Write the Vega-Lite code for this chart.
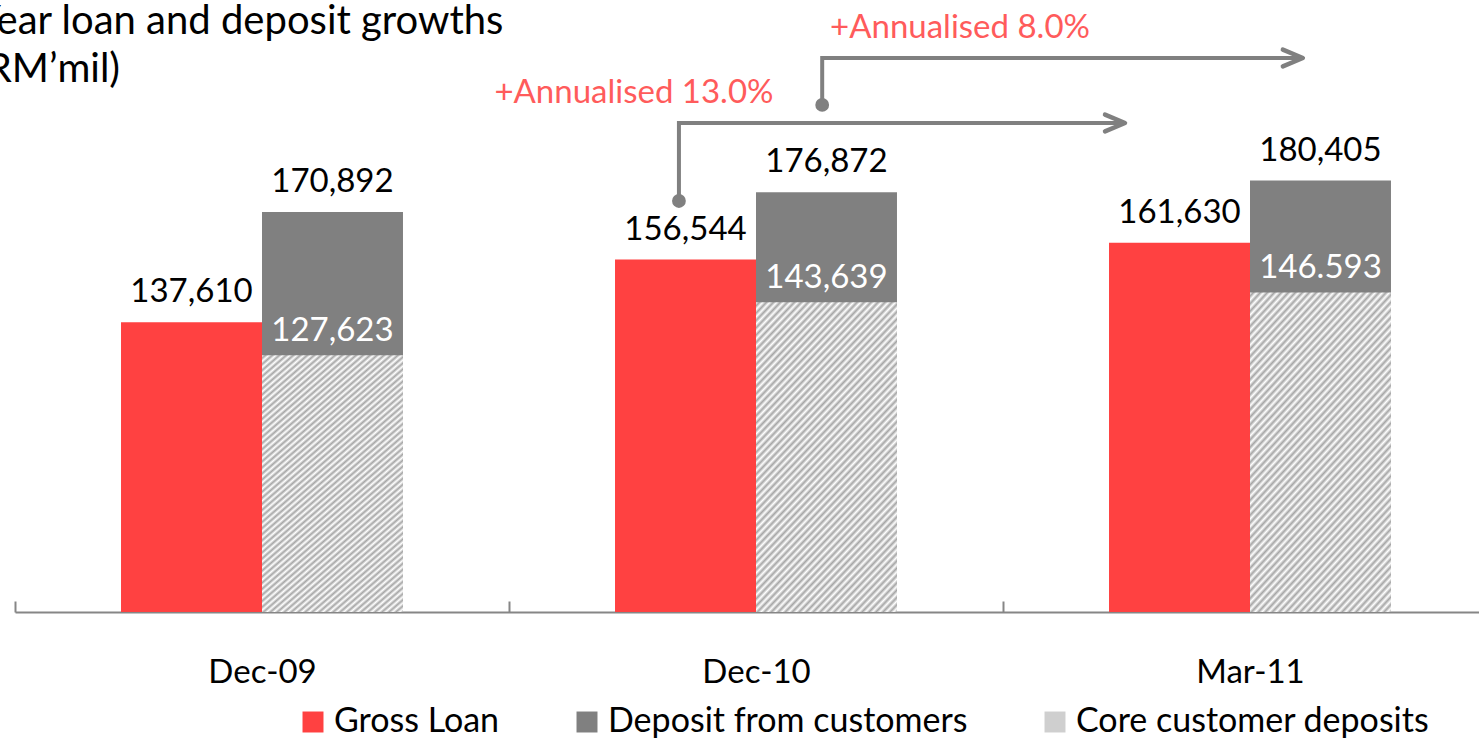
{
  "$schema": "https://vega.github.io/schema/vega-lite/v6.json",
  "width": 1464,
  "height": 612,
  "autosize": "none",
  "padding": {"left": 15, "top": 0, "right": 0, "bottom": 127},
  "config": {
    "view": {"stroke": null},
    "font": "Lato",
    "text": {"font": "Lato"}
  },
  "title": {
    "text": ["Year loan and deposit growths", "(RM’mil)"],
    "anchor": "start",
    "frame": "group",
    "orient": "top",
    "font": "Lato",
    "fontSize": 40,
    "fontWeight": "normal",
    "color": "#000000",
    "lineHeight": 48,
    "baseline": "top",
    "offset": 0,
    "dx": -39,
    "dy": 90
  },
  "datasets": {
    "bars": [
      {"period": "Dec-09", "series": "Gross Loan", "slot": "loan", "value": 137610, "label": "137,610"},
      {"period": "Dec-09", "series": "Deposit from customers", "slot": "deposit", "value": 170892, "label": "170,892"},
      {"period": "Dec-09", "series": "Core customer deposits", "slot": "deposit", "value": 127623, "label": "127,623"},
      {"period": "Dec-10", "series": "Gross Loan", "slot": "loan", "value": 156544, "label": "156,544"},
      {"period": "Dec-10", "series": "Deposit from customers", "slot": "deposit", "value": 176872, "label": "176,872"},
      {"period": "Dec-10", "series": "Core customer deposits", "slot": "deposit", "value": 143639, "label": "143,639"},
      {"period": "Mar-11", "series": "Gross Loan", "slot": "loan", "value": 161630, "label": "161,630"},
      {"period": "Mar-11", "series": "Deposit from customers", "slot": "deposit", "value": 180405, "label": "180,405"},
      {"period": "Mar-11", "series": "Core customer deposits", "slot": "deposit", "value": 146593, "label": "146.593"}
    ],
    "arrows": [
      {"growth": "+Annualised 13.0%", "xStart": 1.344, "xEnd": 2.247, "yStart": 174244, "yLevel": 197823, "textX": 1.253, "textY": 206893},
      {"growth": "+Annualised 8.0%", "xStart": 1.634, "xEnd": 2.607, "yStart": 203265, "yLevel": 217473, "textX": 1.913, "textY": 226542}
    ]
  },
  "layer": [
    {
      "data": {"name": "bars"},
      "encoding": {
        "x": {
          "field": "period",
          "type": "nominal",
          "sort": ["Dec-09", "Dec-10", "Mar-11"],
          "scale": {"range": [0, 1482], "paddingInner": 0, "paddingOuter": 0},
          "axis": {
            "title": null,
            "labelAngle": 0,
            "tickBand": "extent",
            "tickSize": -11,
            "tickWidth": 2,
            "tickColor": "#868686",
            "domainColor": "#868686",
            "domainWidth": 2,
            "labelFont": "Lato",
            "labelFontSize": 33,
            "labelColor": "#000000",
            "labelPadding": 55,
            "labelBaseline": "top",
            "grid": false
          }
        },
        "xOffset": {
          "field": "slot",
          "type": "nominal",
          "scale": {"domain": ["loan", "deposit"], "paddingInner": 0, "paddingOuter": 0.752}
        },
        "y": {
          "field": "value",
          "type": "quantitative",
          "scale": {"domain": [50000, 235000]},
          "axis": null
        }
      },
      "layer": [
        {
          "transform": [{"filter": "datum.series !== 'Core customer deposits'"}],
          "mark": {"type": "bar"},
          "encoding": {
            "y2": {"datum": 50000},
            "color": {
              "field": "series",
              "type": "nominal",
              "scale": {
                "domain": ["Gross Loan", "Deposit from customers", "Core customer deposits"],
                "range": ["#ff4141", "#808080", "#cfcfcf"]
              },
              "legend": {
                "title": null,
                "orient": "none",
                "legendX": 281,
                "legendY": 705,
                "direction": "horizontal",
                "symbolType": "square",
                "symbolSize": 440,
                "symbolStrokeWidth": 0,
                "labelFont": "Lato",
                "labelFontSize": 34,
                "labelColor": "#000000",
                "labelLimit": 800,
                "labelOffset": 4,
                "columnPadding": 70,
                "padding": 0
              }
            }
          }
        },
        {
          "transform": [{"filter": "datum.series === 'Core customer deposits'"}],
          "mark": {
            "type": "bar",
            "fill": {
              "gradient": "linear",
              "x1": 0, "y1": 0, "x2": 0.575, "y2": 1.203,
              "stops": [
                {"offset": 0, "color": "#ffffff"}, {"offset": 0.008, "color": "#a6a6a6"}, {"offset": 0.016, "color": "#ffffff"}, {"offset": 0.024, "color": "#a6a6a6"}, {"offset": 0.032, "color": "#ffffff"}, {"offset": 0.04, "color": "#a6a6a6"}, {"offset": 0.048, "color": "#ffffff"}, {"offset": 0.056, "color": "#a6a6a6"}, {"offset": 0.064, "color": "#ffffff"}, {"offset": 0.072, "color": "#a6a6a6"},
                {"offset": 0.08, "color": "#ffffff"}, {"offset": 0.088, "color": "#a6a6a6"}, {"offset": 0.096, "color": "#ffffff"}, {"offset": 0.104, "color": "#a6a6a6"}, {"offset": 0.112, "color": "#ffffff"}, {"offset": 0.12, "color": "#a6a6a6"}, {"offset": 0.128, "color": "#ffffff"}, {"offset": 0.136, "color": "#a6a6a6"}, {"offset": 0.144, "color": "#ffffff"}, {"offset": 0.152, "color": "#a6a6a6"},
                {"offset": 0.16, "color": "#ffffff"}, {"offset": 0.168, "color": "#a6a6a6"}, {"offset": 0.176, "color": "#ffffff"}, {"offset": 0.184, "color": "#a6a6a6"}, {"offset": 0.192, "color": "#ffffff"}, {"offset": 0.2, "color": "#a6a6a6"}, {"offset": 0.208, "color": "#ffffff"}, {"offset": 0.216, "color": "#a6a6a6"}, {"offset": 0.224, "color": "#ffffff"}, {"offset": 0.232, "color": "#a6a6a6"},
                {"offset": 0.24, "color": "#ffffff"}, {"offset": 0.248, "color": "#a6a6a6"}, {"offset": 0.256, "color": "#ffffff"}, {"offset": 0.264, "color": "#a6a6a6"}, {"offset": 0.272, "color": "#ffffff"}, {"offset": 0.28, "color": "#a6a6a6"}, {"offset": 0.288, "color": "#ffffff"}, {"offset": 0.296, "color": "#a6a6a6"}, {"offset": 0.304, "color": "#ffffff"}, {"offset": 0.312, "color": "#a6a6a6"},
                {"offset": 0.32, "color": "#ffffff"}, {"offset": 0.328, "color": "#a6a6a6"}, {"offset": 0.336, "color": "#ffffff"}, {"offset": 0.344, "color": "#a6a6a6"}, {"offset": 0.352, "color": "#ffffff"}, {"offset": 0.36, "color": "#a6a6a6"}, {"offset": 0.368, "color": "#ffffff"}, {"offset": 0.376, "color": "#a6a6a6"}, {"offset": 0.384, "color": "#ffffff"}, {"offset": 0.392, "color": "#a6a6a6"},
                {"offset": 0.4, "color": "#ffffff"}, {"offset": 0.408, "color": "#a6a6a6"}, {"offset": 0.416, "color": "#ffffff"}, {"offset": 0.424, "color": "#a6a6a6"}, {"offset": 0.432, "color": "#ffffff"}, {"offset": 0.44, "color": "#a6a6a6"}, {"offset": 0.448, "color": "#ffffff"}, {"offset": 0.456, "color": "#a6a6a6"}, {"offset": 0.464, "color": "#ffffff"}, {"offset": 0.472, "color": "#a6a6a6"},
                {"offset": 0.48, "color": "#ffffff"}, {"offset": 0.488, "color": "#a6a6a6"}, {"offset": 0.496, "color": "#ffffff"}, {"offset": 0.504, "color": "#a6a6a6"}, {"offset": 0.512, "color": "#ffffff"}, {"offset": 0.52, "color": "#a6a6a6"}, {"offset": 0.528, "color": "#ffffff"}, {"offset": 0.536, "color": "#a6a6a6"}, {"offset": 0.544, "color": "#ffffff"}, {"offset": 0.552, "color": "#a6a6a6"},
                {"offset": 0.56, "color": "#ffffff"}, {"offset": 0.568, "color": "#a6a6a6"}, {"offset": 0.576, "color": "#ffffff"}, {"offset": 0.584, "color": "#a6a6a6"}, {"offset": 0.592, "color": "#ffffff"}, {"offset": 0.6, "color": "#a6a6a6"}, {"offset": 0.608, "color": "#ffffff"}, {"offset": 0.616, "color": "#a6a6a6"}, {"offset": 0.624, "color": "#ffffff"}, {"offset": 0.632, "color": "#a6a6a6"},
                {"offset": 0.64, "color": "#ffffff"}, {"offset": 0.648, "color": "#a6a6a6"}, {"offset": 0.656, "color": "#ffffff"}, {"offset": 0.664, "color": "#a6a6a6"}, {"offset": 0.672, "color": "#ffffff"}, {"offset": 0.68, "color": "#a6a6a6"}, {"offset": 0.688, "color": "#ffffff"}, {"offset": 0.696, "color": "#a6a6a6"}, {"offset": 0.704, "color": "#ffffff"}, {"offset": 0.712, "color": "#a6a6a6"},
                {"offset": 0.72, "color": "#ffffff"}, {"offset": 0.728, "color": "#a6a6a6"}, {"offset": 0.736, "color": "#ffffff"}, {"offset": 0.744, "color": "#a6a6a6"}, {"offset": 0.752, "color": "#ffffff"}, {"offset": 0.76, "color": "#a6a6a6"}, {"offset": 0.768, "color": "#ffffff"}, {"offset": 0.776, "color": "#a6a6a6"}, {"offset": 0.784, "color": "#ffffff"}, {"offset": 0.792, "color": "#a6a6a6"},
                {"offset": 0.8, "color": "#ffffff"}, {"offset": 0.808, "color": "#a6a6a6"}, {"offset": 0.816, "color": "#ffffff"}, {"offset": 0.824, "color": "#a6a6a6"}, {"offset": 0.832, "color": "#ffffff"}, {"offset": 0.84, "color": "#a6a6a6"}, {"offset": 0.848, "color": "#ffffff"}, {"offset": 0.856, "color": "#a6a6a6"}, {"offset": 0.864, "color": "#ffffff"}, {"offset": 0.872, "color": "#a6a6a6"},
                {"offset": 0.88, "color": "#ffffff"}, {"offset": 0.888, "color": "#a6a6a6"}, {"offset": 0.896, "color": "#ffffff"}, {"offset": 0.904, "color": "#a6a6a6"}, {"offset": 0.912, "color": "#ffffff"}, {"offset": 0.92, "color": "#a6a6a6"}, {"offset": 0.928, "color": "#ffffff"}, {"offset": 0.936, "color": "#a6a6a6"}, {"offset": 0.944, "color": "#ffffff"}, {"offset": 0.952, "color": "#a6a6a6"},
                {"offset": 0.96, "color": "#ffffff"}, {"offset": 0.968, "color": "#a6a6a6"}, {"offset": 0.976, "color": "#ffffff"}, {"offset": 0.984, "color": "#a6a6a6"}, {"offset": 0.992, "color": "#ffffff"}, {"offset": 1, "color": "#a6a6a6"}
              ]
            }
          },
          "encoding": {"y2": {"datum": 50000}}
        },
        {
          "transform": [{"filter": "datum.series !== 'Core customer deposits'"}],
          "mark": {"type": "text", "baseline": "alphabetic", "dy": -20, "fontSize": 33, "font": "Lato", "color": "#000000"},
          "encoding": {"text": {"field": "label"}}
        },
        {
          "transform": [{"filter": "datum.series === 'Core customer deposits'"}],
          "mark": {"type": "text", "baseline": "alphabetic", "dy": -14, "fontSize": 33, "font": "Lato", "color": "#ffffff"},
          "encoding": {"text": {"field": "label"}}
        }
      ]
    },
    {
      "data": {"name": "arrows"},
      "encoding": {
        "x": {"field": "xStart", "type": "quantitative", "scale": {"domain": [0, 3], "range": [0, 1482]}, "axis": null},
        "y": {"field": "yLevel", "type": "quantitative", "scale": {"domain": [50000, 235000]}, "axis": null}
      },
      "layer": [
        {
          "mark": {"type": "rule", "color": "#808080", "strokeWidth": 4, "strokeCap": "square"},
          "encoding": {"y": {"field": "yStart", "type": "quantitative"}, "y2": {"field": "yLevel"}}
        },
        {
          "mark": {"type": "rule", "color": "#808080", "strokeWidth": 4, "strokeCap": "butt"},
          "encoding": {"x2": {"field": "xEnd"}}
        },
        {
          "mark": {"type": "point", "shape": "circle", "filled": true, "size": 190, "color": "#808080", "opacity": 1},
          "encoding": {"y": {"field": "yStart", "type": "quantitative"}}
        },
        {
          "mark": {"type": "point", "shape": "M-1,-0.42L0,0L-1,0.42", "filled": false, "size": 1600, "color": "#808080", "strokeWidth": 4.5, "strokeJoin": "round", "strokeCap": "round", "opacity": 1},
          "encoding": {"x": {"field": "xEnd", "type": "quantitative"}}
        },
        {
          "mark": {"type": "text", "baseline": "middle", "align": "center", "fontSize": 33, "font": "Lato", "color": "#ff5b5b"},
          "encoding": {
            "x": {"field": "textX", "type": "quantitative"},
            "y": {"field": "textY", "type": "quantitative"},
            "text": {"field": "growth"}
          }
        }
      ]
    }
  ],
  "resolve": {"scale": {"x": "independent"}}
}
